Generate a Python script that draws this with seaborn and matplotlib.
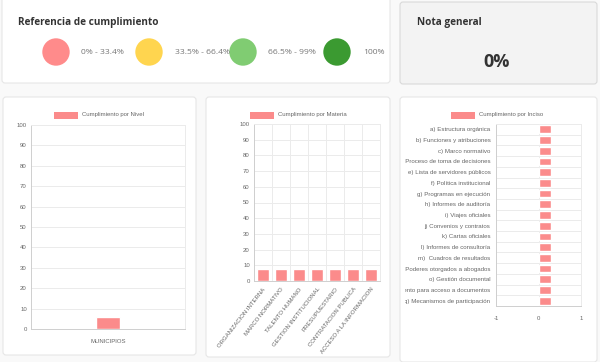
import matplotlib
matplotlib.use("Agg")
import matplotlib.pyplot as plt
import seaborn as sns
import pandas as pd
from matplotlib.patches import FancyBboxPatch, Circle, Rectangle
from matplotlib.transforms import Bbox, TransformedBbox

# ---------------- data ----------------
ref_labels = ["0% - 33.4%", "33.5% - 66.4%", "66.5% - 99%", "100%"]
ref_colors = ["#FF8B8B", "#FFD54F", "#80CC72", "#3B9A31"]
nota_general = "0%"

nivel_cats = ["MUNICIPIOS"]
nivel_vals = [6]

materia_cats = ["ORGANIZACION INTERNA", "MARCO NORMATIVO", "TALENTO HUMANO",
                "GESTION INSTITUCIONAL", "PRESUPUESTARIO", "CONTRATACION PUBLICA",
                "ACCESO A LA INFORMACION"]
materia_vals = [7.7, 7.7, 7.7, 7.7, 7.7, 7.7, 7.7]

inciso_cats = ["a) Estructura orgánica", "b) Funciones y atribuciones", "c) Marco normativo",
               "d) Proceso de toma de decisiones", "e) Lista de servidores públicos",
               "f) Política institucional", "g) Programas en ejecución",
               "h) Informes de auditoría", "i) Viajes oficiales", "j) Convenios y contratos",
               "k) Cartas oficiales", "l) Informes de consultoría", "m)  Cuadros de resultados",
               "n) Poderes otorgados a abogados", "o) Gestión documental",
               "p) Procedimiento para acceso a documentos", "q) Mecanismos de participación"]
inciso_vals = [0.3, 0.3, 0.3, 0.3, 0.3, 0.3, 0.3, 0.3, 0.3, 0.3, 0.3, 0.3, 0.3, 0.3, 0.3, 0.3, 0.3]

y_ticks = [0, 10, 20, 30, 40, 50, 60, 70, 80, 90, 100]
x_ticks_inciso = [-1, 0, 1]

# ---------------- style ----------------
sns.set_theme(style="white")
plt.rcParams["font.family"] = ["Liberation Sans", "DejaVu Sans"]

BAR = "#FB8B8B"
GRID = "#ebebeb"
SPINE = "#cfcfcf"
TICKC = "#666666"
FS = 4.3

W, H = 600, 362
fig = plt.figure(figsize=(W / 100, H / 100), dpi=100, facecolor="#f9f9f9")
T = fig.dpi_scale_trans


def pin(x, y):
    return x / 100, (H - y) / 100


def card(x0, y0, x1, y1, fc="white", ec="#e6e6e6"):
    p = FancyBboxPatch(pin(x0, y1), (x1 - x0) / 100, (y1 - y0) / 100,
                       boxstyle="round,pad=0,rounding_size=0.03",
                       transform=T, fc=fc, ec=ec, lw=0.8, zorder=-5)
    fig.patches.append(p)


def axrect(l, t, r, b):
    return [l / W, 1 - b / H, (r - l) / W, (b - t) / H]


# cards
card(2, -5, 390, 83)
card(400, 2, 597, 84, fc="#f3f3f3", ec="#d9d9d9")
card(3, 97, 196, 355)
card(206, 97, 390, 357)
card(400, 97, 597, 362)

# reference card
fig.text(*pin(18, 22), "Referencia de cumplimiento", transform=T, fontsize=7.2,
         fontweight="bold", color="#333333", family=["Open Sans", "DejaVu Sans"], va="center")
cx = [56, 149, 243, 337]
lx = [81, 175, 268, 363]
for c, l, col, lab in zip(cx, lx, ref_colors, ref_labels):
    fig.patches.append(Circle(pin(c, 52), 0.137, transform=T, fc=col, ec="none", zorder=2))
    fig.text(*pin(l, 53), lab, transform=T, fontsize=6.1, color="#777777",
             family=["Open Sans", "DejaVu Sans"], va="center")

# nota general
fig.text(*pin(417, 23), "Nota general", transform=T, fontsize=7.2, fontweight="bold",
         color="#333333", family=["Open Sans", "DejaVu Sans"], va="center")
fig.text(*pin(497, 62), nota_general, transform=T, fontsize=13, fontweight="bold",
         color="#333333", family=["Open Sans", "DejaVu Sans"], va="center", ha="center")


def legend(x, y, text):
    fig.patches.append(Rectangle(pin(x, y + 3.5), 0.24, 0.07, transform=T, fc=BAR, ec="none", zorder=2))
    fig.text(*pin(x + 28, y), text, transform=T, fontsize=FS, color=TICKC, va="center")


def style_axes(ax):
    ax.set_facecolor("white")
    for s in ax.spines.values():
        s.set_color(GRID)
        s.set_linewidth(0.7)
    ax.set_xlabel("")
    ax.set_ylabel("")
    ax.tick_params(length=0, labelsize=FS, labelcolor=TICKC, pad=3)


# chart 1: nivel
ax1 = fig.add_axes(axrect(31, 125, 185, 329))
df1 = pd.DataFrame({"cat": nivel_cats, "val": nivel_vals})
sns.barplot(data=df1, x="cat", y="val", color=BAR, width=0.156, saturation=1, ax=ax1, zorder=3)
style_axes(ax1)
ax1.set_ylim(0, 100)
ax1.set_xlim(-0.5, 0.5)
ax1.set_yticks(y_ticks)
ax1.yaxis.grid(True, color=GRID, lw=0.7)
ax1.set_xticks([-0.5, 0.5], minor=True)
ax1.tick_params(axis="x", which="minor", length=3.5, color=GRID, width=0.7)
ax1.spines["left"].set_color(SPINE)
ax1.spines["bottom"].set_color(SPINE)
ax1.tick_params(axis="x", which="major", pad=7)
legend(54, 115, "Cumplimiento por Nivel")

# chart 2: materia
ax2 = fig.add_axes(axrect(254, 124, 380, 281))
df2 = pd.DataFrame({"cat": materia_cats, "val": materia_vals})
sns.barplot(data=df2, x="cat", y="val", color=BAR, width=0.72, saturation=1, ax=ax2, zorder=3)
style_axes(ax2)
ax2.set_ylim(0, 100)
ax2.set_xlim(-0.5, len(materia_cats) - 0.5)
ax2.set_yticks(y_ticks)
ax2.yaxis.grid(True, color=GRID, lw=0.7)
ax2.set_xticks([i + 0.5 for i in range(-1, len(materia_cats))], minor=True)
ax2.xaxis.grid(True, which="minor", color=GRID, lw=0.7)
ax2.tick_params(axis="x", which="minor", length=3.5, color=GRID, width=0.7)
ax2.spines["left"].set_color(SPINE)
ax2.spines["bottom"].set_color(SPINE)
for t in ax2.get_xticklabels():
    t.set_rotation(52)
    t.set_ha("right")
    t.set_rotation_mode("anchor")
ax2.tick_params(axis="x", which="major", pad=4)
legend(250, 115, "Cumplimiento por Materia")

# chart 3: inciso
ax3 = fig.add_axes(axrect(496, 124, 581, 306))
df3 = pd.DataFrame({"cat": inciso_cats, "val": inciso_vals})
sns.barplot(data=df3, x="val", y="cat", orient="h", color=BAR, width=0.72, saturation=1, ax=ax3, zorder=3)
style_axes(ax3)
ax3.set_xlim(-1, 1)
ax3.set_xticks(x_ticks_inciso)
ax3.set_xticklabels([str(v) for v in x_ticks_inciso])
ax3.set_ylim(len(inciso_cats) - 0.5, -0.5)
ax3.set_yticks([i + 0.5 for i in range(-1, len(inciso_cats))], minor=True)
ax3.yaxis.grid(True, which="minor", color=GRID, lw=0.7)
ax3.xaxis.grid(True, color=GRID, lw=0.7)
ax3.spines["left"].set_color(SPINE)
ax3.spines["bottom"].set_color(SPINE)
ax3.tick_params(axis="x", pad=7)
ax3.tick_params(axis="y", pad=4, labelsize=4.4)
ax3.tick_params(which="minor", length=0)
legend(451, 115, "Cumplimiento por Inciso")

fig.canvas.draw()
clip = TransformedBbox(Bbox.from_extents(4.05, 0.0, 5.97, 2.65), T)
for t in ax3.get_yticklabels():
    t.set_clip_box(clip)
    t.set_clip_on(True)

fig.savefig("out.png", dpi=100, facecolor=fig.get_facecolor())
